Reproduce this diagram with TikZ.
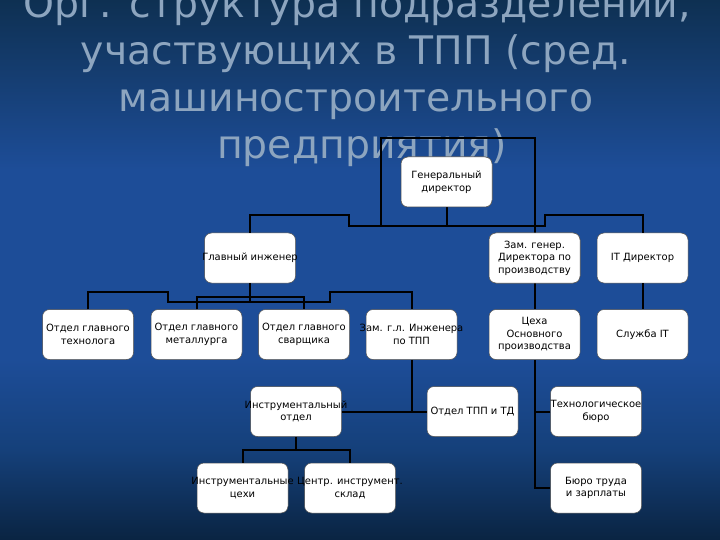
\documentclass[tikz,border=0pt]{standalone}
\usepackage{fontspec}
\setmainfont{DejaVu Sans}
\definecolor{bgtop}{HTML}{0E3052}
\definecolor{bgupper}{HTML}{163F75}
\definecolor{bgmid}{HTML}{1D4D98}
\definecolor{bglow}{HTML}{15407A}
\definecolor{bgbottom}{HTML}{0A2442}
\definecolor{titlecol}{HTML}{8DA5BF}
\tikzset{
  unit/.style={draw=black!70, line width=0.5bp, fill=white, rounded corners=7bp,
    minimum width=91bp, minimum height=50bp, inner sep=0pt},
  unittext/.style={align=center, font=\fontsize{10}{12.7}\selectfont, inner sep=0pt},
  link/.style={line width=2bp, black},
  titleline/.style={anchor=base, text=titlecol, font=\fontsize{39.5}{47}\selectfont, inner sep=0pt}
}
\begin{document}
\begin{tikzpicture}[x=1bp, y=-1bp]

        % background
        \useasboundingbox (0,0) rectangle (720,540);
        \shade[top color=bgtop, bottom color=bgmid, middle color=bgupper] (0,0) rectangle (720,170);
        \fill[bgmid] (0,169.5) rectangle (720,360);
        \shade[top color=bgmid, bottom color=bgbottom, middle color=bglow] (0,359.5) rectangle (720,540);

        % title
        \node[titleline] (t1) at (357,18) {Орг. структура подразделений,};
        \node[titleline] (t2) at (356,65) {участвующих в ТПП (сред.};
        \node[titleline] (t3) at (356,112) {машиностроительного};
        \node[titleline] (t4) at (362,159) {предприятия)};

        % boxes, top rows
        \node[unit, label={[unittext]center:{Генеральный\\директор}}] (gendir) at (446.5,182) {};
        \node[unit, label={[unittext]center:{Главный инженер}}] (glinzh) at (250,258) {};
        \node[unit, label={[unittext]center:{Зам. генер.\\Директора по\\производству}}] (zamgen) at (534.5,258) {};
        \node[unit, label={[unittext]center:{IT Директор}}] (itdir) at (642.5,258) {};

        % boxes, third row
        \node[unit, label={[unittext]center:{Отдел главного\\технолога}}] (ogtech) at (88,334.5) {};
        \node[unit, label={[unittext]center:{Отдел главного\\металлурга}}] (ogmet) at (196.5,334.5) {};
        \node[unit, label={[unittext]center:{Отдел главного\\сварщика}}] (ogsvar) at (304,334.5) {};
        \node[unit, label={[unittext]center:{Зам. г.л. Инженера\\по ТПП}}] (zamgi) at (411.5,334.5) {};
        \node[unit, label={[unittext]center:{Цеха\\Основного\\производства}}] (ceha) at (534.5,334.5) {};
        \node[unit, label={[unittext]center:{Служба IT}}] (sluzhit) at (642.5,334.5) {};

        % boxes, lower rows
        \node[unit, label={[unittext]center:{Инструментальный\\отдел}}] (instotd) at (296,411.5) {};
        \node[unit, label={[unittext]center:{Отдел ТПП и ТД}}] (otdtpp) at (472.5,411.5) {};
        \node[unit, label={[unittext]center:{Технологическое\\бюро}}] (techbur) at (596,411.5) {};
        \node[unit, label={[unittext]center:{Инструментальные\\цехи}}] (instceh) at (242.5,488) {};
        \node[unit, label={[unittext]center:{Центр. инструмент.\\склад}}] (centrsk) at (350,488) {};
        \node[unit, label={[unittext]center:{Бюро труда\\и зарплаты}}] (burotr) at (596,488) {};

        % frame line
        \coordinate (frameL) at (381,226);
        \draw[link] (frameL) -- ++(0,-88) -| (zamgen.north);

        % top bus
        \draw[link] (gendir.south) -- ++(0,19);
        \draw[link] (glinzh.north) |- (349,215) |- (545,226) -- (545,215) -| (itdir.north);
        \draw[link] (zamgen.south) -- (ceha.north);
        \draw[link] (itdir.south) -- (sluzhit.north);

        % chief engineer bus
        \draw[link] (glinzh.south) -- ++(0,19);
        \draw[link] (ogtech.north) |- (168,292) |- (330,302) -- (330,292) -| (zamgi.north);
        \draw[link] (ogmet.north) -- ++(0,-12) -| (ogsvar.north);

        % lower links
        \draw[link] (instotd.east) -- (otdtpp.west);
        \draw[link] (zamgi.south) -- (zamgi.south |- instotd.east);
        \draw[link] (instotd.south) -- ++(0,14);
        \draw[link] (instceh.north) -- ++(0,-13) -| (centrsk.north);
        \draw[link] (ceha.south) |- (burotr.west);
        \draw[link] (techbur.west) -- (techbur.west -| ceha.south);

        % redraw boxes over the frame line
        \node[unit, label={[unittext]center:{Генеральный\\директор}}] at (gendir) {};
        \node[unit, label={[unittext]center:{Зам. генер.\\Директора по\\производству}}] at (zamgen) {};
\end{tikzpicture}
\end{document}
